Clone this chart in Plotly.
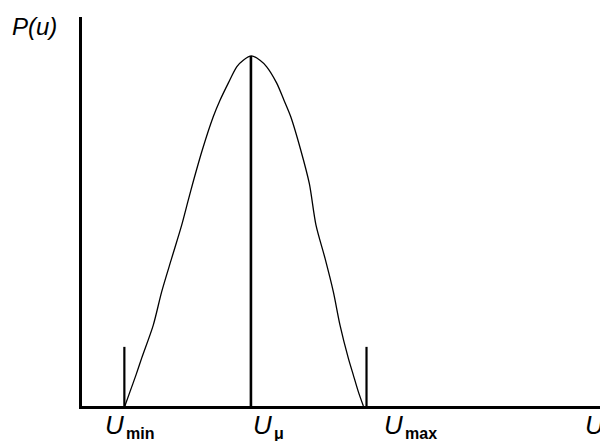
import plotly.graph_objects as go

# distribution curve P(u) (u in arbitrary units, P normalised)
u_curve = [0.82, 0.918, 1.033, 1.141, 1.363, 1.524, 1.715, 1.906, 2.033, 2.117, 2.300, 2.511,
           2.639, 2.797, 2.958, 3.084, 3.24, 3.403,
           3.532, 3.723, 3.862, 3.990, 4.182, 4.346, 4.474, 4.646, 4.805, 4.933, 5.092,
           5.187, 5.283, 5.38]
p_curve = [0.0, 0.037, 0.080, 0.123, 0.208, 0.294, 0.380, 0.465, 0.530, 0.572, 0.658, 0.744,
           0.786, 0.830, 0.872, 0.889, 0.900, 0.889,
           0.872, 0.830, 0.786, 0.744, 0.658, 0.572, 0.465, 0.380, 0.294, 0.208, 0.123,
           0.080, 0.037, 0.0]

# marked positions on the u axis
u_min, u_mu, u_max = 0.81, 3.23, 5.44
tick_height = 0.152
peak_height = 0.90

FONT = "Liberation Sans"

fig = go.Figure()
fig.add_trace(go.Scatter(x=u_curve, y=p_curve, mode="lines",
                         line=dict(color="black", width=1.3, shape="spline", smoothing=0.8),
                         showlegend=False))
for u, h, w in [(u_min, tick_height, 2.2), (u_max, tick_height, 2.2), (u_mu, peak_height, 2.6)]:
    fig.add_trace(go.Scatter(x=[u, u], y=[0, h], mode="lines",
                             line=dict(color="black", width=w), showlegend=False))

# axis labels: italic U plus upright subscript
labels = [(u_min - 0.40, "min"), (u_mu + 0.0, "\u03bc"), (u_max + 0.29, "max")]
for x0, sub in labels:
    fig.add_annotation(x=x0, y=-0.004, xref="x", yref="paper", xanchor="left", yanchor="top",
                       text="<i>U</i>", showarrow=False, font=dict(family=FONT, size=26, color="black"))
    fig.add_annotation(x=x0 + 0.40, y=-0.044, xref="x", yref="paper", xanchor="left", yanchor="top",
                       text="<b>" + sub + "</b>", showarrow=False,
                       font=dict(family=FONT, size=16, color="black"))
fig.add_annotation(x=9.58, y=-0.004, xref="x", yref="paper", xanchor="left", yanchor="top",
                   text="<i>U</i>", showarrow=False, font=dict(family=FONT, size=26, color="black"))
fig.add_annotation(x=-0.138, y=1.016, xref="paper", yref="paper", xanchor="left", yanchor="top",
                   text="<i>P(u)</i>", showarrow=False, font=dict(family=FONT, size=24, color="black"))

# the page body adds an 8px margin, so the figure is 8px smaller and shifted
fig.update_layout(
    width=600, height=433,
    margin=dict(l=74, r=3, t=9, b=35),
    paper_bgcolor="white", plot_bgcolor="white",
    xaxis=dict(range=[0, 10], showgrid=False, zeroline=False, showticklabels=False,
               showline=True, linecolor="black", linewidth=2.5, ticks=""),
    yaxis=dict(range=[0, 1], showgrid=False, zeroline=False, showticklabels=False,
               showline=True, linecolor="black", linewidth=2.5, ticks=""),
)
fig.write_html("out.html")
